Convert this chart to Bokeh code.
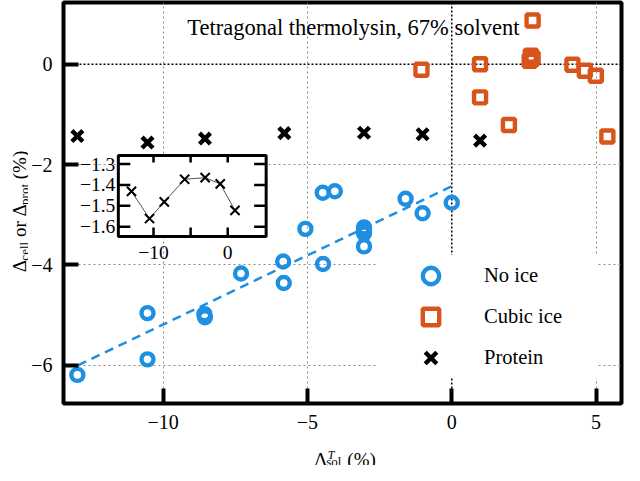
import math
from bokeh.plotting import figure
from bokeh.layouts import column, row
from bokeh.models import Range1d, FixedTicker, Label, Legend, LegendItem, Span
from bokeh.embed import file_html
from bokeh.resources import INLINE
from bokeh.core.properties import value

# ---------------- data ----------------
noice_x = [-12.97, -10.54, -10.54, -8.57, -8.55, -7.30, -5.84, -5.82, -5.07,
           -4.47, -4.05, -4.46, -3.04, -3.04, -3.04, -3.04, -1.60, -1.01, 0.00]
noice_y = [-6.19, -4.96, -5.88, -4.98, -5.04, -4.17, -3.93, -4.36, -3.28,
           -2.56, -2.53, -3.98, -3.25, -3.31, -3.37, -3.63, -2.68, -2.97, -2.76]
cubic_x = [-1.05, 0.98, 0.98, 1.98, 2.80, 2.74, 2.70, 2.80, 4.18, 4.61, 4.99, 5.39]
cubic_y = [-0.11, 0.00, -0.66, -1.21, 0.87, 0.17, 0.07, 0.12, -0.01, -0.13, -0.23, -1.44]
prot_x = [-12.97, -10.54, -8.55, -5.80, -3.04, -1.01, 0.98]
prot_y = [-1.431, -1.561, -1.481, -1.373, -1.365, -1.395, -1.522]
fit_x = [-12.95, 0.0]
fit_y = [-6.00, -2.43]

x_ticks = [-10, -5, 0, 5]
x_tick_labels = ["\u221210", "\u22125", "0", "5"]
y_ticks = [-6, -4, -2, 0]
y_tick_labels = ["\u22126", "\u22124", "\u22122", "0"]
inset_x_ticks = [-10, -5, 0]
inset_x_labeled = [-10, 0]
inset_x_tick_labels = ["\u221210", "0"]
inset_y_ticks = [-1.3, -1.4, -1.5, -1.6]
inset_y_tick_labels = ["\u22121.3", "\u22121.4", "\u22121.5", "\u22121.6"]
legend_labels = ["No ice", "Cubic ice", "Protein"]
title_text = "Tetragonal thermolysin, 67% solvent"

# ---------------- style / layout ----------------
FONT = "Liberation Serif"
BLUE = "#1e8fe1"
ORANGE = "#d9541a"
XR = (-13.45, 5.88)
YR = (-6.76, 1.23)
IX = (-14.74, 5.18)          # inset x range
IY = (-1.647, -1.259)        # inset y range
INSET_BOX = (-11.55, -6.43, -3.432, -1.819)   # inset frame in main-data coords (l, r, b, t)

TOTAL_W, TOTAL_H = 624, 465
YLAB_W = 28
MAIN_W, MAIN_H = TOTAL_W - YLAB_W, 439
XLAB_H = TOTAL_H - MAIN_H
FRAME_LEFT, FRAME_TOP, FRAME_BOTTOM = 63, 2, 403

p = figure(width=MAIN_W, height=MAIN_H, x_range=Range1d(*XR), y_range=Range1d(*YR),
           output_backend="svg", toolbar_location=None,
           min_border_left=FRAME_LEFT - YLAB_W, min_border_right=3, min_border_top=FRAME_TOP,
           min_border_bottom=MAIN_H - FRAME_BOTTOM)
p.background_fill_color = "white"
p.border_fill_color = "white"
p.outline_line_color = "black"
p.outline_line_width = 4
p.outline_line_alpha = 1

for ax in (p.xaxis[0], p.yaxis[0]):
    ax.axis_line_color = None
    ax.major_tick_in = 15
    ax.major_tick_out = 0
    ax.major_tick_line_width = 4
    ax.major_tick_line_color = "black"
    ax.minor_tick_line_color = None
    ax.major_label_text_font = FONT
    ax.major_label_text_font_size = "20px"
    ax.major_label_text_color = "black"
p.xaxis.ticker = FixedTicker(ticks=x_ticks)
p.yaxis.ticker = FixedTicker(ticks=y_ticks)
p.xaxis.major_label_overrides = dict(zip(x_ticks, x_tick_labels))
p.yaxis.major_label_overrides = dict(zip(y_ticks, y_tick_labels))
p.xaxis.major_label_standoff = 11
p.yaxis.major_label_standoff = 11

p.xgrid.ticker = FixedTicker(ticks=[t for t in x_ticks if t != 0])
p.ygrid.ticker = FixedTicker(ticks=[t for t in y_ticks if t != 0])
p.grid.grid_line_color = "#8a8a8a"
p.grid.grid_line_dash = "2 3"
p.grid.grid_line_width = 1
p.add_layout(Span(location=0, dimension="height", line_color="black",
                  line_dash="2 2", line_width=1.5, level="underlay"))
p.add_layout(Span(location=0, dimension="width", line_color="black",
                  line_dash="2 2", line_width=1.5, level="underlay"))

# ---------------- main data ----------------
p.line(fit_x, fit_y, line_color=BLUE, line_width=2.5, line_dash="9 6")
r_noice = p.scatter(noice_x, noice_y, marker="circle", size=12, fill_color=None,
                    line_color=BLUE, line_width=4.4)
r_cubic = p.scatter(cubic_x, cubic_y, marker="square", size=12, fill_color=None,
                    line_color=ORANGE, line_width=4.4)
r_prot = p.scatter(prot_x, prot_y, marker="x", size=15.5, line_color="black", line_width=4.4)

# ---------------- inset ----------------
def extra_range(main, lo, hi, ilo, ihi):
    b = (ihi - ilo) / (hi - lo)
    a = ilo - b * lo
    return Range1d(a + b * main[0], a + b * main[1])

p.extra_x_ranges = {"ix": extra_range(XR, INSET_BOX[0], INSET_BOX[1], *IX)}
p.extra_y_ranges = {"iy": extra_range(YR, INSET_BOX[2], INSET_BOX[3], *IY)}
ik = dict(x_range_name="ix", y_range_name="iy")

p.quad(left=IX[0], right=IX[1], bottom=IY[0], top=IY[1], fill_color="white",
       line_color="black", line_width=3, **ik)
p.line(prot_x, prot_y, line_color="#555555", line_width=1, **ik)
p.scatter(prot_x, prot_y, marker="x", size=13, line_color="black", line_width=2, **ik)

tk = dict(line_color="black", line_width=2.5, length_units="screen", **ik)
p.ray(x=[IX[0]] * len(inset_y_ticks), y=inset_y_ticks, length=12, angle=0, **tk)
p.ray(x=[IX[1]] * len(inset_y_ticks), y=inset_y_ticks, length=12, angle=math.pi, **tk)
p.ray(x=inset_x_ticks, y=[IY[0]] * len(inset_x_ticks), length=9, angle=math.pi / 2, **tk)
p.ray(x=inset_x_ticks, y=[IY[1]] * len(inset_x_ticks), length=7, angle=-math.pi / 2, **tk)

p.text(x=[IX[0]] * len(inset_y_ticks), y=inset_y_ticks, text=inset_y_tick_labels,
       x_offset=-3, text_align="right", text_baseline="middle",
       text_font=value(FONT), text_font_size="19.5px", text_color="black", **ik)
p.text(x=inset_x_labeled, y=[IY[0]] * len(inset_x_labeled), text=inset_x_tick_labels,
       y_offset=10, text_align="center", text_baseline="top",
       text_font=value(FONT), text_font_size="19.5px", text_color="black", **ik)

# ---------------- legend ----------------
legend = Legend(items=[LegendItem(label=legend_labels[0], renderers=[r_noice]),
                       LegendItem(label=legend_labels[1], renderers=[r_cubic]),
                       LegendItem(label=legend_labels[2], renderers=[r_prot])],
                location=(314, 25), orientation="vertical",
                glyph_width=107, glyph_height=41, label_standoff=-14, label_width=113,
                padding=0, spacing=0, margin=0, border_line_color=None,
                background_fill_color="white", background_fill_alpha=1,
                label_text_font=FONT, label_text_font_size="20.5px", label_text_color="black")
p.add_layout(legend)

# ---------------- title ----------------
p.add_layout(Label(x=-3.41, y=0.74, text=title_text, text_align="center",
                   text_baseline="middle", text_font=FONT, text_font_size="22.5px",
                   text_color="black"))

# ---------------- axis labels (real text, in small side figures) ----------------
W = {"\u0394": .612, "c": .444, "e": .444, "l": .278, "o": .5, "r": .333, "p": .5,
     "t": .278, "(": .333, "%": .833, ")": .333, " ": .25, "s": .389}

def tw(s, px):
    return sum(W.get(ch, 0.5) for ch in s) * px

BIG, SMALL = 19, 13
lab = dict(x_units="screen", y_units="screen", text_font=FONT, text_color="black",
           text_baseline="alphabetic", text_align="left")

def blank_fig(w, h):
    f = figure(width=w, height=h, x_axis_type=None, y_axis_type=None,
               output_backend="svg", toolbar_location=None, min_border=0,
               x_range=Range1d(0, 1), y_range=Range1d(0, 1))
    f.outline_line_color = None
    f.background_fill_color = "white"
    f.border_fill_color = "white"
    f.grid.visible = False
    return f

# y label: Delta_cell or Delta_prot (%)  (its frame is aligned with the main frame)
ylab = blank_fig(YLAB_W, MAIN_H)
pieces = [("\u0394", BIG, 0, 0), ("cell", SMALL, 5, 0), ("or \u0394", BIG, 0, tw(" ", BIG)),
          ("prot", SMALL, 5, 0), ("(%)", BIG, 0, tw(" ", BIG))]
total = sum(tw(t, s) + g for t, s, _, g in pieces)
ybase_x = 19
pos = (FRAME_BOTTOM - 211) - total / 2
for t, s, shift, gap in pieces:
    pos += gap
    ylab.add_layout(Label(x=ybase_x + shift, y=pos, text=t, angle=math.pi / 2,
                          text_font_size=f"{s}px", **lab))
    pos += tw(t, s)

# x label: Delta_sol^T (%)
xlab = blank_fig(TOTAL_W, XLAB_H)
xb, yb = 314, 6.5
xlab.add_layout(Label(x=xb, y=yb, text="\u0394", text_font_size=f"{BIG}px", **lab))
xs = xb + tw("\u0394", BIG)
xlab.add_layout(Label(x=xs, y=yb - 2.5, text="sol", text_font_size=f"{SMALL}px", **lab))
xlab.add_layout(Label(x=xs + 1.5, y=yb + 4.5, text="T", text_font_size="12px",
                      text_font_style="italic", **lab))
xlab.add_layout(Label(x=xs + tw("sol", SMALL) + 6, y=yb, text="(%)",
                      text_font_size=f"{BIG}px", **lab))

layout = column(row(ylab, p, spacing=0), xlab, spacing=0)
open("out.html", "w").write(file_html(layout, INLINE))
